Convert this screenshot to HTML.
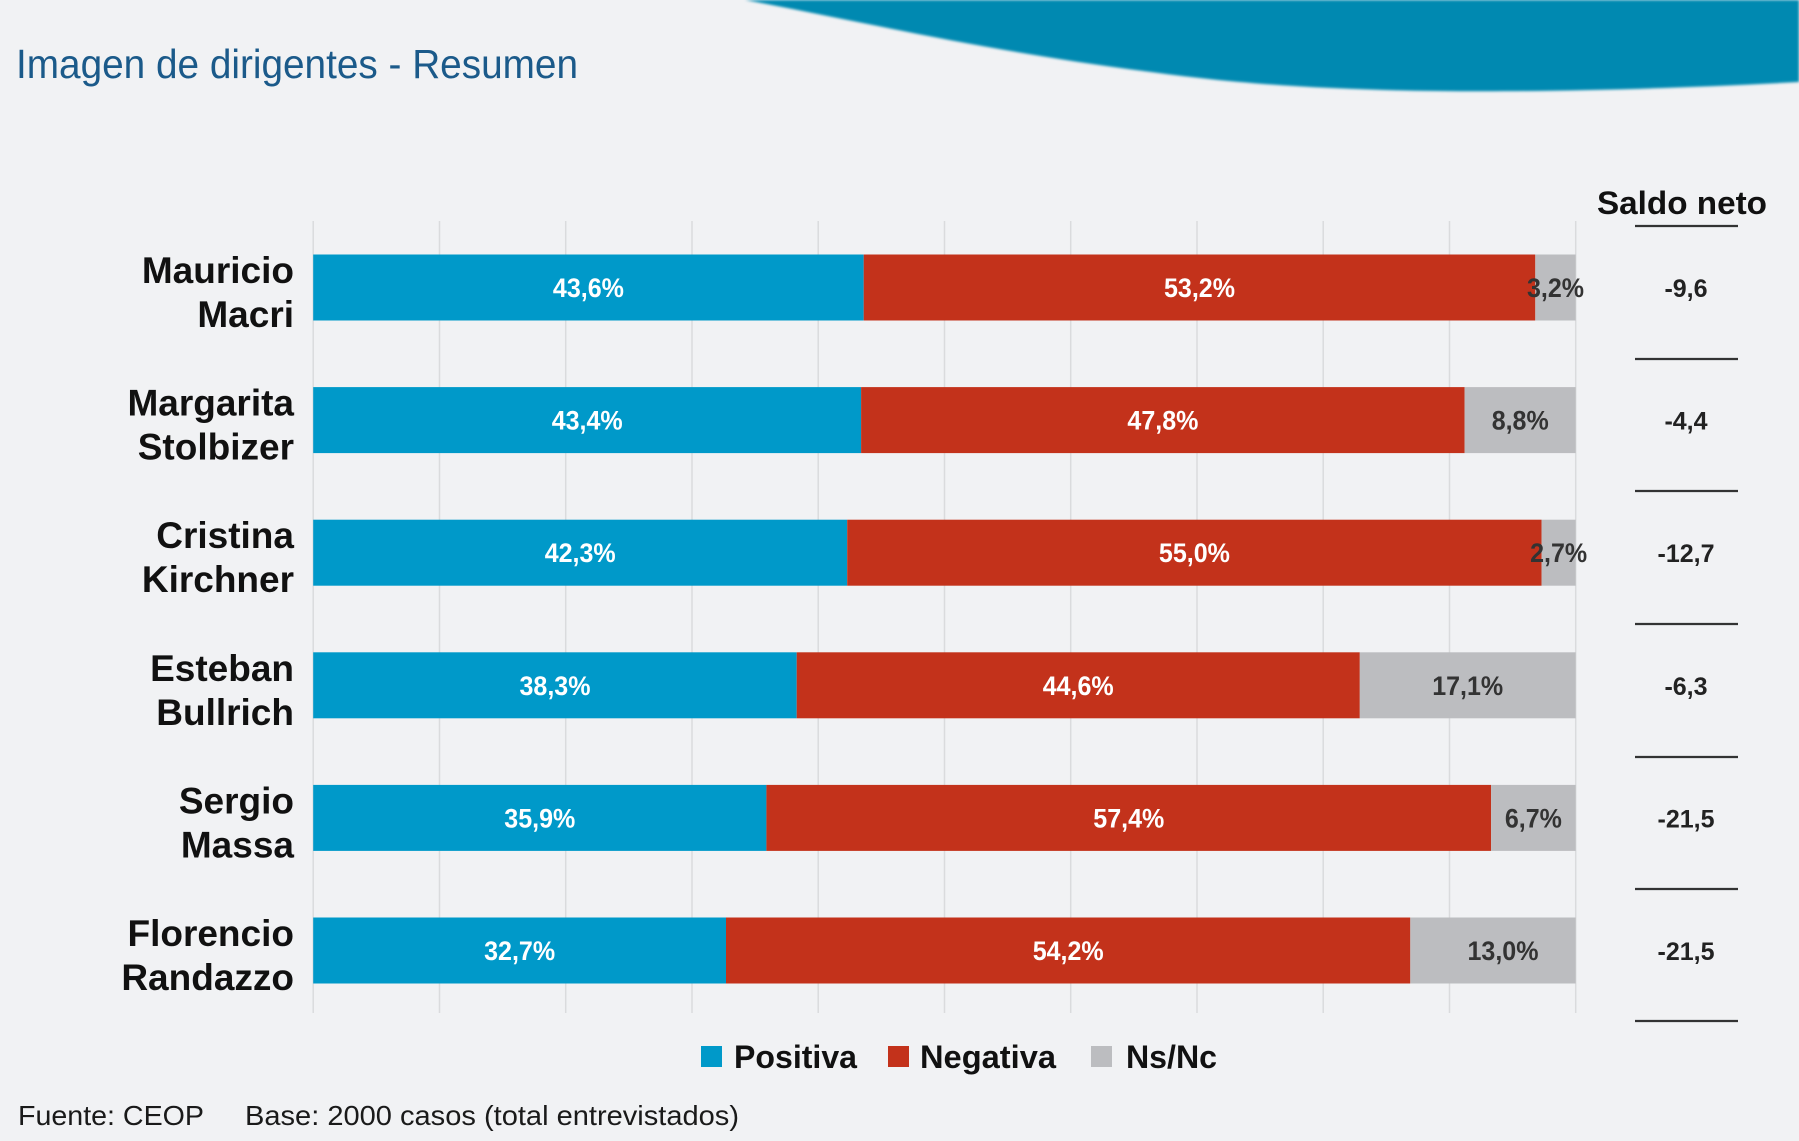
<!DOCTYPE html>
<html>
<head>
<meta charset="utf-8">
<style>
html,body{margin:0;padding:0;background:#f1f2f4;}
svg{display:block;}
text{font-family:"Liberation Sans",Arial,sans-serif;}
</style>
</head>
<body>
<svg width="1799" height="1141" viewBox="0 0 1799 1141" xmlns="http://www.w3.org/2000/svg">
<defs>
<filter id="blur" x="-5%" y="-20%" width="110%" height="140%"><feGaussianBlur stdDeviation="1.2"/></filter>
</defs>
<rect width="1799" height="1141" fill="#f1f2f4"/>
<!-- wave -->
<path d="M745,0 C880,25 1000,55 1200,78 C1350,95 1550,95 1799,82 L1799,0 Z" fill="#0489b1" filter="url(#blur)"/>
<!-- title -->
<text x="16" y="78" font-size="41" fill="#1b5a8a" textLength="562" lengthAdjust="spacingAndGlyphs">Imagen de dirigentes - Resumen</text>

<!-- gridlines -->
<g stroke="#dadbdd" stroke-width="1.5">
<line x1="313.2" y1="221" x2="313.2" y2="1013"/>
<line x1="439.5" y1="221" x2="439.5" y2="1013"/>
<line x1="565.7" y1="221" x2="565.7" y2="1013"/>
<line x1="692" y1="221" x2="692" y2="1013"/>
<line x1="818.2" y1="221" x2="818.2" y2="1013"/>
<line x1="944.5" y1="221" x2="944.5" y2="1013"/>
<line x1="1070.7" y1="221" x2="1070.7" y2="1013"/>
<line x1="1197" y1="221" x2="1197" y2="1013"/>
<line x1="1323.2" y1="221" x2="1323.2" y2="1013"/>
<line x1="1449.5" y1="221" x2="1449.5" y2="1013"/>
<line x1="1575.7" y1="221" x2="1575.7" y2="1013"/>
</g>

<!-- Saldo neto header -->
<text x="1597" y="214" font-size="32" font-weight="bold" fill="#111" textLength="170" lengthAdjust="spacingAndGlyphs">Saldo neto</text>
<g stroke="#333" stroke-width="2.2">
<line x1="1635" y1="226" x2="1738" y2="226"/>
<line x1="1635" y1="359" x2="1738" y2="359"/>
<line x1="1635" y1="491" x2="1738" y2="491"/>
<line x1="1635" y1="624" x2="1738" y2="624"/>
<line x1="1635" y1="757" x2="1738" y2="757"/>
<line x1="1635" y1="889" x2="1738" y2="889"/>
<line x1="1635" y1="1021" x2="1738" y2="1021"/>
</g>

<!-- row 1 -->
<g>
<rect x="313.2" y="254.5" width="550.5" height="66" fill="#0099c9"/>
<rect x="863.7" y="254.5" width="671.6" height="66" fill="#c3321b"/>
<rect x="1535.3" y="254.5" width="40.4" height="66" fill="#bcbdc0"/>
<text x="588.4" y="297" font-size="27" font-weight="bold" fill="#fff" text-anchor="middle" textLength="71" lengthAdjust="spacingAndGlyphs">43,6%</text>
<text x="1199.5" y="297" font-size="27" font-weight="bold" fill="#fff" text-anchor="middle" textLength="71" lengthAdjust="spacingAndGlyphs">53,2%</text>
<text x="1555.5" y="297" font-size="27" font-weight="bold" fill="#333" text-anchor="middle" textLength="57" lengthAdjust="spacingAndGlyphs">3,2%</text>
<text x="294" y="283" font-size="37" font-weight="bold" fill="#111" text-anchor="end">Mauricio</text>
<text x="294" y="327" font-size="37" font-weight="bold" fill="#111" text-anchor="end">Macri</text>
<text x="1686" y="297" font-size="25" font-weight="bold" fill="#222" text-anchor="middle">-9,6</text>
</g>
<!-- row 2 -->
<g>
<rect x="313.2" y="387.1" width="547.9" height="66" fill="#0099c9"/>
<rect x="861.1" y="387.1" width="603.5" height="66" fill="#c3321b"/>
<rect x="1464.6" y="387.1" width="111.1" height="66" fill="#bcbdc0"/>
<text x="587.2" y="429.6" font-size="27" font-weight="bold" fill="#fff" text-anchor="middle" textLength="71" lengthAdjust="spacingAndGlyphs">43,4%</text>
<text x="1162.9" y="429.6" font-size="27" font-weight="bold" fill="#fff" text-anchor="middle" textLength="71" lengthAdjust="spacingAndGlyphs">47,8%</text>
<text x="1520.2" y="429.6" font-size="27" font-weight="bold" fill="#333" text-anchor="middle" textLength="57" lengthAdjust="spacingAndGlyphs">8,8%</text>
<text x="294" y="415.6" font-size="37" font-weight="bold" fill="#111" text-anchor="end">Margarita</text>
<text x="294" y="459.6" font-size="37" font-weight="bold" fill="#111" text-anchor="end">Stolbizer</text>
<text x="1686" y="429.6" font-size="25" font-weight="bold" fill="#222" text-anchor="middle">-4,4</text>
</g>
<!-- row 3 -->
<g>
<rect x="313.2" y="519.7" width="534.0" height="66" fill="#0099c9"/>
<rect x="847.2" y="519.7" width="694.4" height="66" fill="#c3321b"/>
<rect x="1541.6" y="519.7" width="34.1" height="66" fill="#bcbdc0"/>
<text x="580.2" y="562.2" font-size="27" font-weight="bold" fill="#fff" text-anchor="middle" textLength="71" lengthAdjust="spacingAndGlyphs">42,3%</text>
<text x="1194.4" y="562.2" font-size="27" font-weight="bold" fill="#fff" text-anchor="middle" textLength="71" lengthAdjust="spacingAndGlyphs">55,0%</text>
<text x="1558.6" y="562.2" font-size="27" font-weight="bold" fill="#333" text-anchor="middle" textLength="57" lengthAdjust="spacingAndGlyphs">2,7%</text>
<text x="294" y="548.2" font-size="37" font-weight="bold" fill="#111" text-anchor="end">Cristina</text>
<text x="294" y="592.2" font-size="37" font-weight="bold" fill="#111" text-anchor="end">Kirchner</text>
<text x="1686" y="562.2" font-size="25" font-weight="bold" fill="#222" text-anchor="middle">-12,7</text>
</g>
<!-- row 4 -->
<g>
<rect x="313.2" y="652.3" width="483.5" height="66" fill="#0099c9"/>
<rect x="796.7" y="652.3" width="563.1" height="66" fill="#c3321b"/>
<rect x="1359.8" y="652.3" width="215.9" height="66" fill="#bcbdc0"/>
<text x="555" y="694.8" font-size="27" font-weight="bold" fill="#fff" text-anchor="middle" textLength="71" lengthAdjust="spacingAndGlyphs">38,3%</text>
<text x="1078.2" y="694.8" font-size="27" font-weight="bold" fill="#fff" text-anchor="middle" textLength="71" lengthAdjust="spacingAndGlyphs">44,6%</text>
<text x="1467.7" y="694.8" font-size="27" font-weight="bold" fill="#333" text-anchor="middle" textLength="71" lengthAdjust="spacingAndGlyphs">17,1%</text>
<text x="294" y="680.8" font-size="37" font-weight="bold" fill="#111" text-anchor="end">Esteban</text>
<text x="294" y="724.8" font-size="37" font-weight="bold" fill="#111" text-anchor="end">Bullrich</text>
<text x="1686" y="694.8" font-size="25" font-weight="bold" fill="#222" text-anchor="middle">-6,3</text>
</g>
<!-- row 5 -->
<g>
<rect x="313.2" y="784.9" width="453.2" height="66" fill="#0099c9"/>
<rect x="766.4" y="784.9" width="724.7" height="66" fill="#c3321b"/>
<rect x="1491.1" y="784.9" width="84.6" height="66" fill="#bcbdc0"/>
<text x="539.8" y="827.4" font-size="27" font-weight="bold" fill="#fff" text-anchor="middle" textLength="71" lengthAdjust="spacingAndGlyphs">35,9%</text>
<text x="1128.8" y="827.4" font-size="27" font-weight="bold" fill="#fff" text-anchor="middle" textLength="71" lengthAdjust="spacingAndGlyphs">57,4%</text>
<text x="1533.4" y="827.4" font-size="27" font-weight="bold" fill="#333" text-anchor="middle" textLength="57" lengthAdjust="spacingAndGlyphs">6,7%</text>
<text x="294" y="813.4" font-size="37" font-weight="bold" fill="#111" text-anchor="end">Sergio</text>
<text x="294" y="857.4" font-size="37" font-weight="bold" fill="#111" text-anchor="end">Massa</text>
<text x="1686" y="827.4" font-size="25" font-weight="bold" fill="#222" text-anchor="middle">-21,5</text>
</g>
<!-- row 6 -->
<g>
<rect x="313.2" y="917.5" width="412.8" height="66" fill="#0099c9"/>
<rect x="726.0" y="917.5" width="684.3" height="66" fill="#c3321b"/>
<rect x="1410.3" y="917.5" width="165.4" height="66" fill="#bcbdc0"/>
<text x="519.6" y="960" font-size="27" font-weight="bold" fill="#fff" text-anchor="middle" textLength="71" lengthAdjust="spacingAndGlyphs">32,7%</text>
<text x="1068.2" y="960" font-size="27" font-weight="bold" fill="#fff" text-anchor="middle" textLength="71" lengthAdjust="spacingAndGlyphs">54,2%</text>
<text x="1503" y="960" font-size="27" font-weight="bold" fill="#333" text-anchor="middle" textLength="71" lengthAdjust="spacingAndGlyphs">13,0%</text>
<text x="294" y="946" font-size="37" font-weight="bold" fill="#111" text-anchor="end">Florencio</text>
<text x="294" y="990" font-size="37" font-weight="bold" fill="#111" text-anchor="end">Randazzo</text>
<text x="1686" y="960" font-size="25" font-weight="bold" fill="#222" text-anchor="middle">-21,5</text>
</g>

<!-- legend -->
<rect x="701" y="1046" width="21" height="21" fill="#0099c9"/>
<text x="734" y="1068" font-size="32" font-weight="bold" fill="#111" textLength="123" lengthAdjust="spacingAndGlyphs">Positiva</text>
<rect x="888" y="1046" width="21" height="21" fill="#c3321b"/>
<text x="920" y="1068" font-size="32" font-weight="bold" fill="#111" textLength="136" lengthAdjust="spacingAndGlyphs">Negativa</text>
<rect x="1091" y="1046" width="21" height="21" fill="#bcbdc0"/>
<text x="1126" y="1068" font-size="32" font-weight="bold" fill="#111" textLength="91" lengthAdjust="spacingAndGlyphs">Ns/Nc</text>

<!-- footer -->
<text x="18" y="1125" font-size="28" fill="#1a1a1a" textLength="186" lengthAdjust="spacingAndGlyphs">Fuente: CEOP</text>
<text x="245" y="1125" font-size="28" fill="#1a1a1a" textLength="494" lengthAdjust="spacingAndGlyphs">Base: 2000 casos (total entrevistados)</text>
</svg>
</body>
</html>
